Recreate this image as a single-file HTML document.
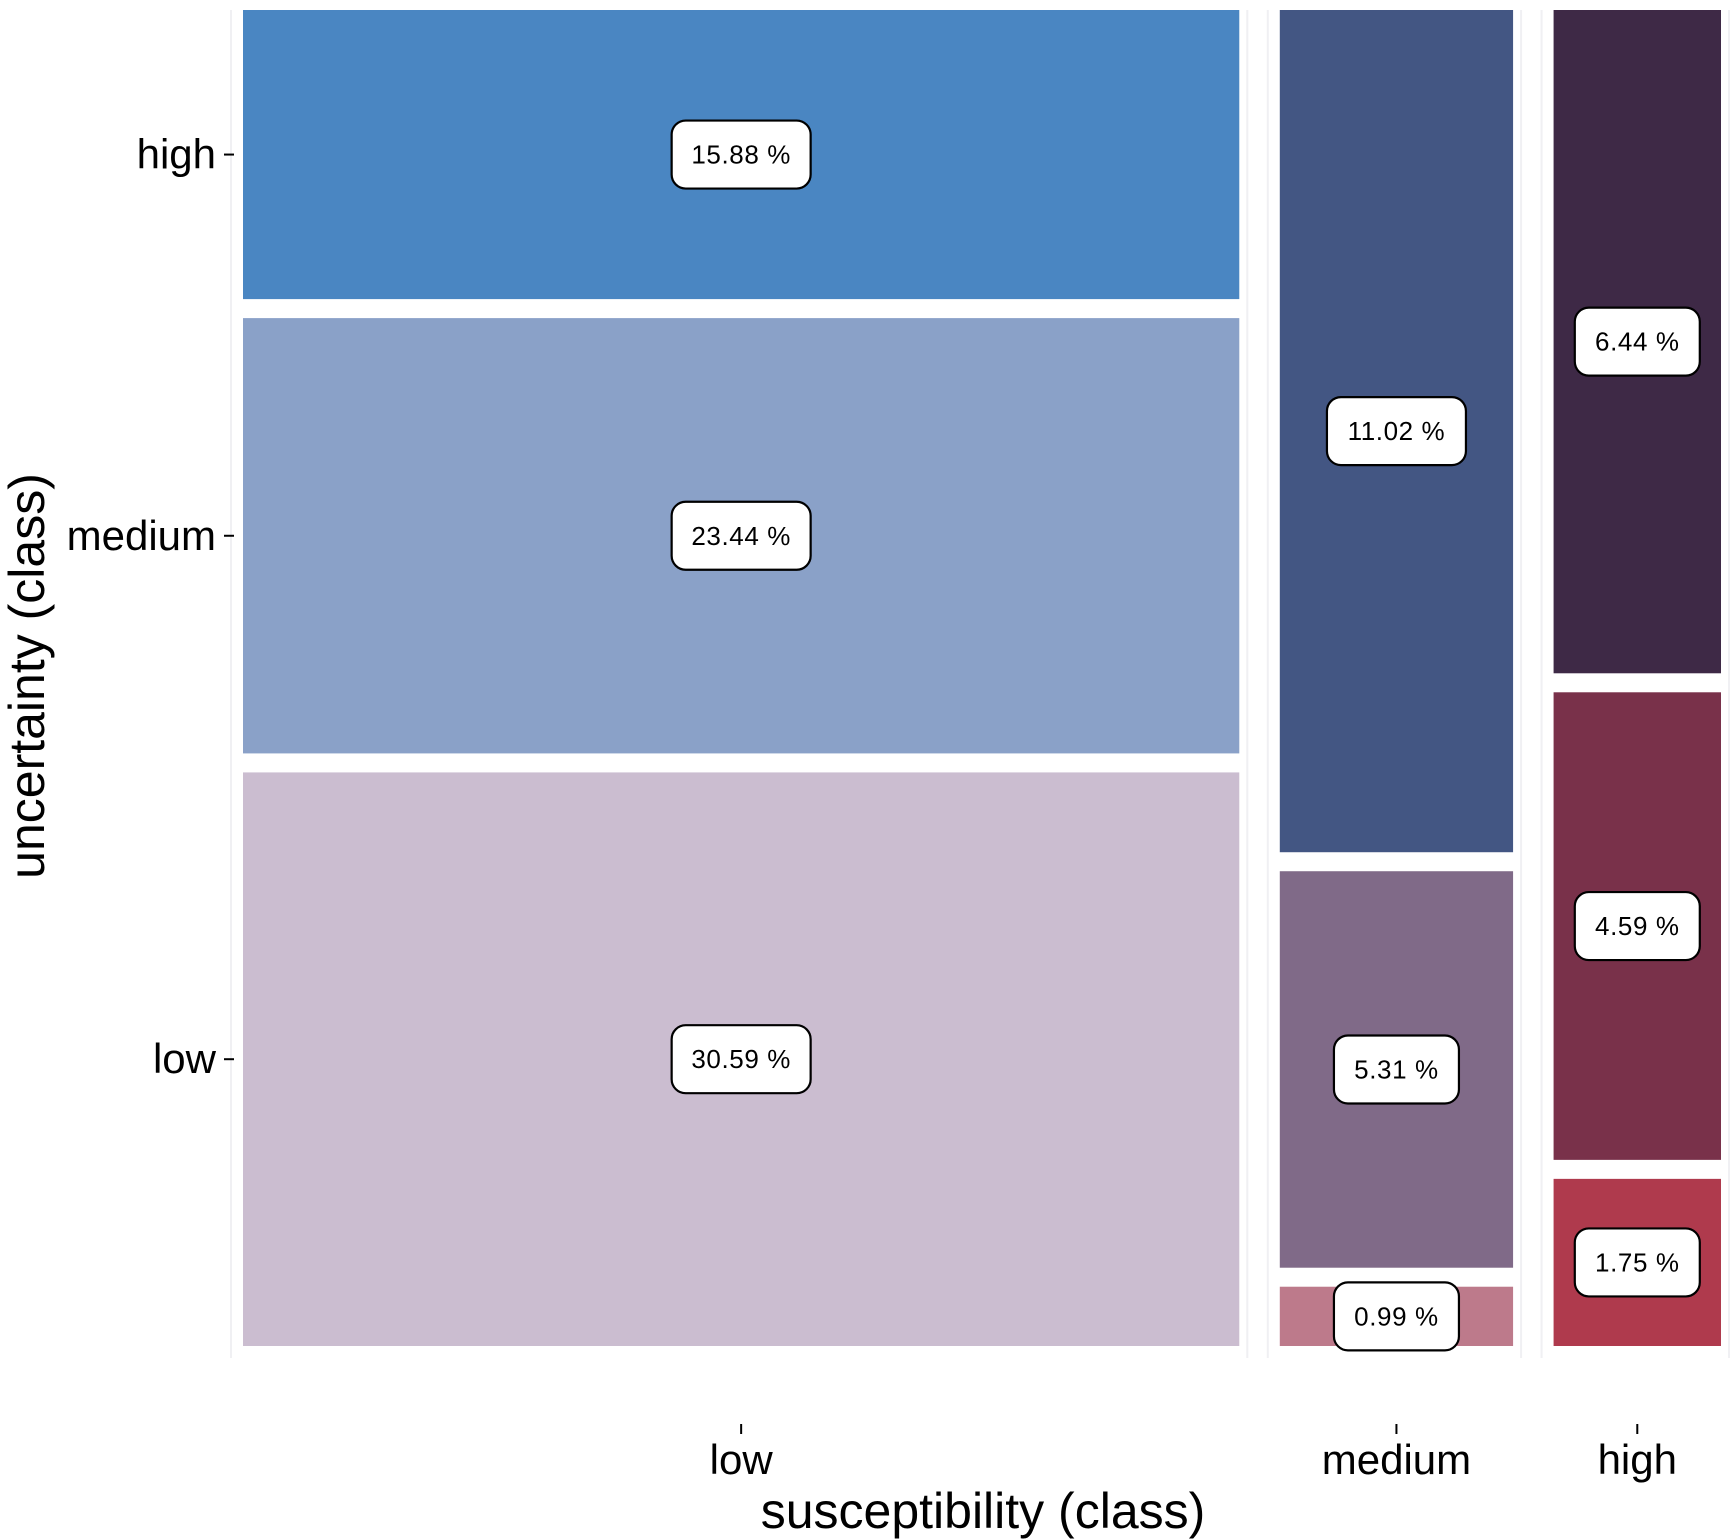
<!DOCTYPE html>
<html><head><meta charset="utf-8">
<style>
html,body{margin:0;padding:0;background:#fff;}
svg{display:block;font-family:"Liberation Sans",sans-serif;}
</style></head>
<body>
<svg id="chart" width="1732" height="1540" viewBox="0 0 1732 1540" xmlns="http://www.w3.org/2000/svg">
  <g id="panels"></g>
  <g id="bars"></g>
  <g id="labels"></g>
  <g id="axes"></g>
  <text x="983" y="1528" text-anchor="middle" font-size="50" fill="#000">susceptibility (class)</text>
  <text transform="translate(44,676) rotate(-90)" text-anchor="middle" font-size="50" fill="#000">uncertainty (class)</text>
</svg>
<script>
const susCats = ["low","medium","high"];
const uncCats = ["low","medium","high"];
// percentages per susceptibility column: [uncertainty low, medium, high]
const lowSus = [30.59, 23.44, 15.88];
const medSus = [0.99, 5.31, 11.02];
const highSus = [1.75, 4.59, 6.44];
const colors = [
  ["#cbbdd0","#8aa1c8","#4a86c2"],
  ["#bd7a8b","#806a88","#435683"],
  ["#af3a4d","#79314a","#3e2946"]
];
const data = [lowSus, medSus, highSus];

const NS = "http://www.w3.org/2000/svg";
const plotL = 243, plotR = 1721, plotT = 10, plotB = 1346;
const colGap = 40.5, rowGap = 19, shrink = 18;
const totals = data.map(c => c.reduce((a,b)=>a+b,0));
const grand = totals.reduce((a,b)=>a+b,0);
const availW = (plotR-plotL) - colGap*(data.length-1);
function wScale(i){ return totals[i]/grand*(availW + shrink*data.length) - shrink; }
function xScale(i){ let x=plotL; for(let k=0;k<i;k++) x += wScale(k) + colGap; return x; }
const availH = (plotB-plotT) - rowGap*2;
function hScale(v, tot, n){ return v/tot*(availH + shrink*n) - shrink; }

const barsG = document.getElementById('bars');
const labelsG = document.getElementById('labels');
const axesG = document.getElementById('axes');
const panelsG = document.getElementById('panels');

function mk(tag, attrs){ const e=document.createElementNS(NS,tag); for(const k in attrs) e.setAttribute(k,attrs[k]); return e; }

const yTickPos = [];
data.forEach((col, i) => {
  const x = xScale(i), w = wScale(i);
  [x-12, x+w+8].forEach(px => {
    const l = mk('line',{x1:px,x2:px,y1:plotT,y2:plotB+12,stroke:"#f0f0f3","stroke-width":2});
    
    
    panelsG.appendChild(l);
  });
  let y = plotB;
  col.forEach((v, j) => {
    const h = hScale(v, totals[i], col.length);
    const r = mk('rect',{x:x,y:y-h,width:w,height:h,fill:colors[i][j]});
    
    
    barsG.appendChild(r);
    const cy = y - h/2, cx = x + w/2;
    if(i===0) yTickPos.push(cy);
    const txt = v.toFixed(2)+" %";
    const bw = v>=10 ? 139 : 125, bh = 68;
    const g = mk('g',{});
    
    
    g.appendChild(mk('rect',{x:cx-bw/2,y:cy-bh/2,width:bw,height:bh,rx:14,fill:"#fff",stroke:"#000","stroke-width":2.2}));
    const t = mk('text',{x:cx,y:cy+9,"text-anchor":"middle","font-size":26,"letter-spacing":"0.6",fill:"#000"});
    t.textContent = txt;
    g.appendChild(t);
    labelsG.appendChild(g);
    y -= h + rowGap;
  });
  const cx = x + w/2;
  const tk = mk('line',{x1:cx,x2:cx,y1:1424,y2:1434,stroke:"#000","stroke-width":2});
  
  
  axesG.appendChild(tk);
  const lt = mk('text',{x:cx,y:1474,"text-anchor":"middle","font-size":42,fill:"#000"});
  
  
  lt.textContent = susCats[i];
  axesG.appendChild(lt);
});
yTickPos.forEach((cy, j) => {
  const tk = mk('line',{x1:224,x2:234,y1:cy,y2:cy,stroke:"#000","stroke-width":2});
  
  
  axesG.appendChild(tk);
  const lt = mk('text',{x:216,y:cy+14,"text-anchor":"end","font-size":42,fill:"#000"});
  
  
  lt.textContent = uncCats[j];
  axesG.appendChild(lt);
});
</script>
</body></html>
